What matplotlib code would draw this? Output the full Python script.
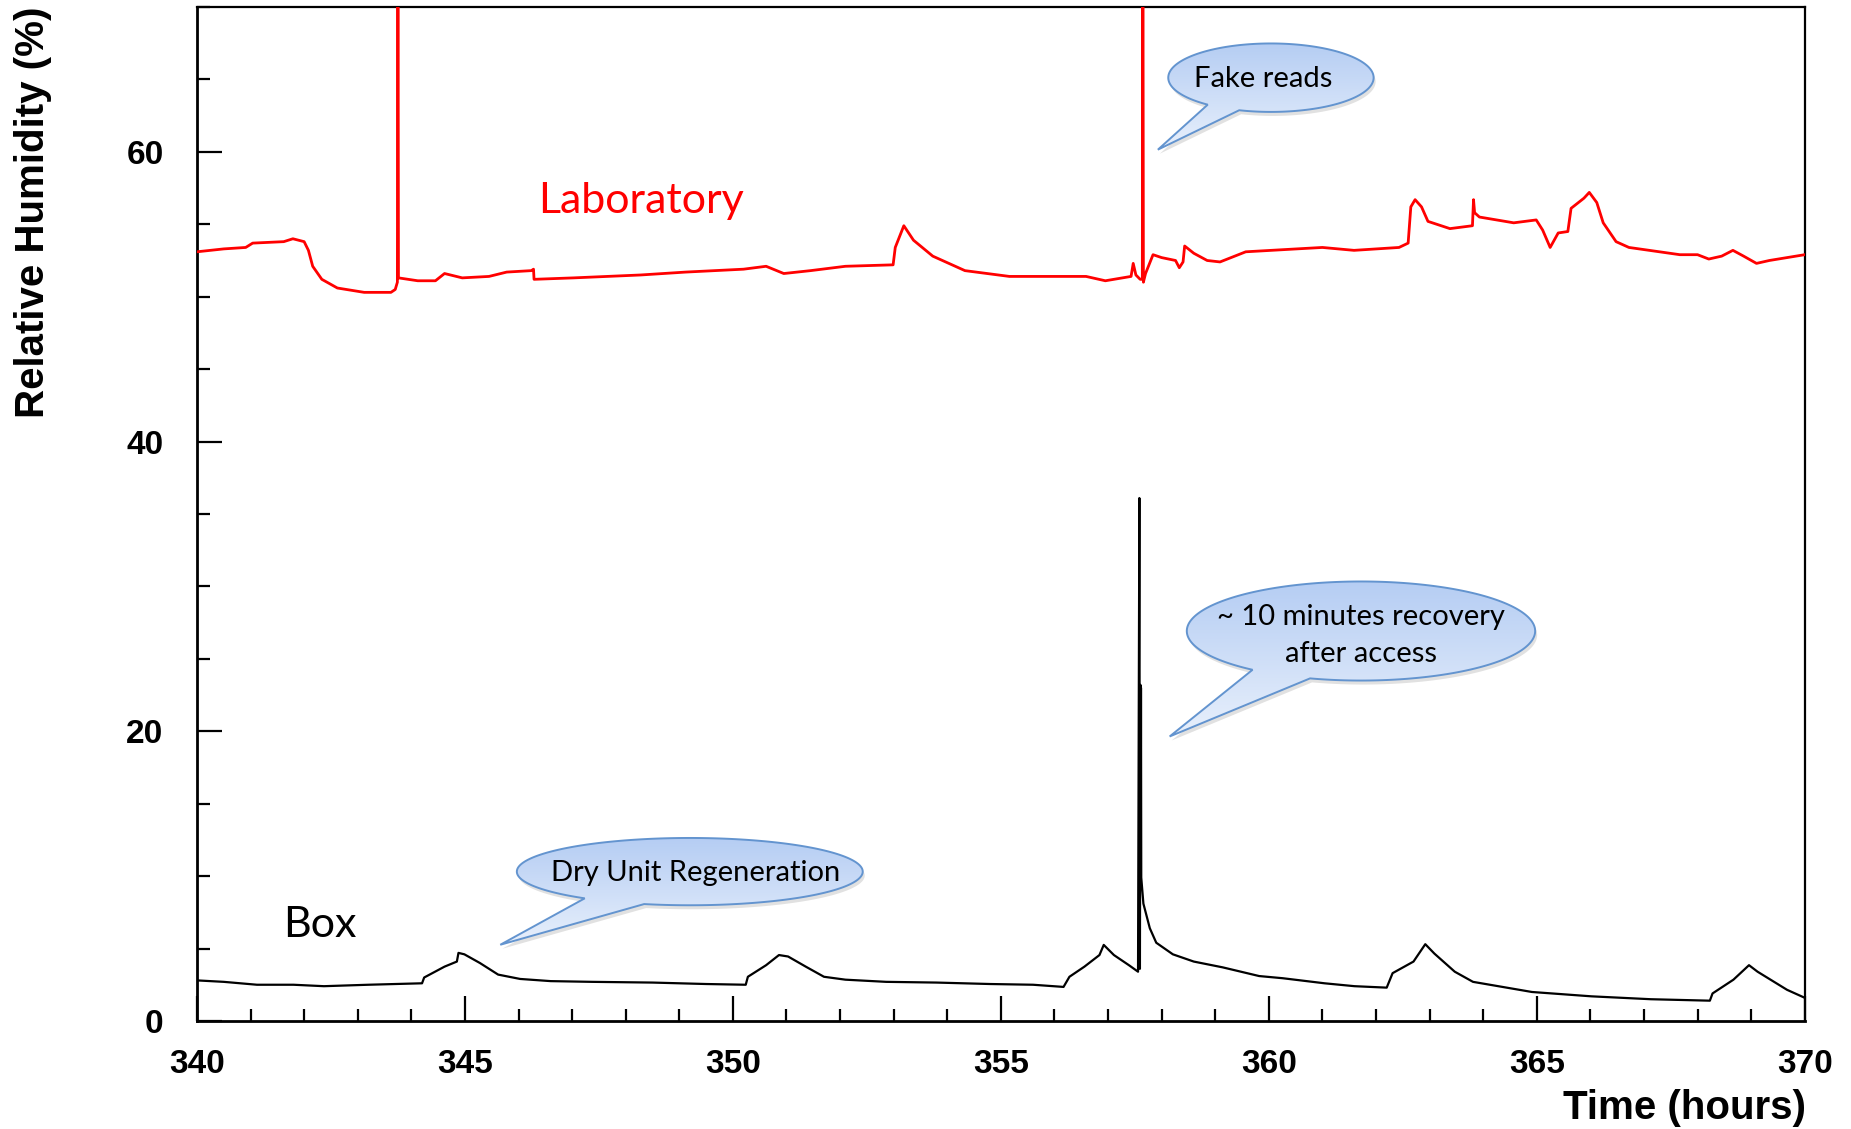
import numpy as np
import matplotlib
matplotlib.use("Agg")
import matplotlib.pyplot as plt
from matplotlib.path import Path
from matplotlib.patches import PathPatch
from matplotlib.colors import LinearSegmentedColormap
import matplotlib.transforms as mtransforms

# Laboratory humidity (red)
lab_t = [340.00, 340.50, 340.91, 341.04, 341.62, 341.79, 342.00, 342.08, 342.16, 342.33,
         342.62, 343.12, 343.62, 343.70, 343.74, 343.75, 343.76, 344.12, 344.45, 344.62,
         344.95, 345.45, 345.78, 346.24, 346.28, 346.29, 347.03, 348.28, 349.12, 350.20,
         350.62, 350.95, 351.45, 352.10, 352.99, 353.03, 353.19, 353.37, 353.73, 354.33,
         355.16, 356.59, 356.95, 357.43, 357.47, 357.52, 357.60, 357.64, 357.65, 357.66,
         357.70, 357.84, 358.00, 358.26, 358.33, 358.40, 358.43, 358.60, 358.85, 359.09,
         359.57, 360.52, 361.00, 361.59, 362.43, 362.60, 362.65, 362.73, 362.85, 362.97,
         363.38, 363.80, 363.82, 363.84, 363.93, 364.57, 364.99, 365.11, 365.25, 365.40,
         365.58, 365.64, 365.88, 365.98, 366.12, 366.24, 366.48, 366.72, 367.67, 368.00,
         368.21, 368.45, 368.66, 368.86, 369.10, 369.34, 370.00]
lab_rh = [53.1, 53.3, 53.4, 53.7, 53.8, 54.0, 53.8, 53.2, 52.1, 51.2,
          50.6, 50.3, 50.3, 50.5, 51.0, 80.0, 51.3, 51.1, 51.1, 51.6,
          51.3, 51.4, 51.7, 51.8, 51.9, 51.2, 51.3, 51.5, 51.7, 51.9,
          52.1, 51.6, 51.8, 52.1, 52.2, 53.4, 54.9, 53.9, 52.8, 51.8,
          51.4, 51.4, 51.1, 51.4, 52.3, 51.5, 51.2, 51.2, 80.0, 51.0,
          51.6, 52.9, 52.7, 52.5, 52.0, 52.4, 53.5, 53.0, 52.5, 52.4,
          53.1, 53.3, 53.4, 53.2, 53.4, 53.7, 56.2, 56.7, 56.2, 55.2,
          54.7, 54.9, 56.7, 55.8, 55.5, 55.1, 55.3, 54.6, 53.4, 54.4,
          54.5, 56.1, 56.8, 57.2, 56.5, 55.1, 53.8, 53.4, 52.9, 52.9,
          52.6, 52.8, 53.2, 52.8, 52.3, 52.5, 52.9]

# Box humidity (black)
box_t = [340.00, 340.50, 341.12, 341.80, 342.37, 343.20, 344.20, 344.24, 344.62, 344.85,
         344.88, 344.99, 345.28, 345.62, 346.03, 346.60, 347.37, 348.50, 349.50, 350.24,
         350.28, 350.62, 350.86, 351.03, 351.36, 351.70, 352.10, 352.86, 353.80, 354.80,
         355.60, 356.17, 356.28, 356.56, 356.84, 356.92, 357.11, 357.39, 357.56, 357.585,
         357.595, 357.605, 357.61, 357.615, 357.62, 357.66, 357.78, 357.90, 358.21, 358.60,
         359.14, 359.82, 360.26, 361.04, 361.60, 362.20, 362.31, 362.70, 362.92, 363.09,
         363.47, 363.81, 364.91, 366.02, 367.13, 368.23, 368.28, 368.67, 368.96, 369.12,
         369.67, 370.00]
box_rh = [2.8, 2.7, 2.5, 2.5, 2.4, 2.5, 2.6, 3.0, 3.75, 4.1,
          4.7, 4.6, 4.0, 3.2, 2.9, 2.75, 2.7, 2.65, 2.55, 2.5,
          3.05, 3.85, 4.55, 4.45, 3.75, 3.05, 2.85, 2.7, 2.65, 2.55,
          2.5, 2.35, 3.05, 3.75, 4.55, 5.25, 4.55, 3.85, 3.4, 36.1,
          3.6, 23.2, 10.5, 23.0, 9.9, 8.1, 6.4, 5.4, 4.6, 4.1,
          3.7, 3.1, 2.95, 2.6, 2.4, 2.3, 3.3, 4.1, 5.3, 4.65,
          3.4, 2.7, 2.0, 1.7, 1.5, 1.4, 1.9, 2.85, 3.85, 3.4,
          2.15, 1.6]

x_ticks = [340, 345, 350, 355, 360, 365, 370]
y_ticks = [0, 20, 40, 60]

fig = plt.figure(figsize=(18.51, 11.29), dpi=100)
ax = fig.add_axes([0.1064, 0.0957, 0.975 - 0.1064, 0.9938 - 0.0957])

ax.plot(lab_t, lab_rh, color="#ff0000", lw=2.0, zorder=3)
ax.plot(box_t, box_rh, color="black", lw=1.6, zorder=3)

ax.set_xlim(340, 370)
ax.set_ylim(0, 70)
ax.set_xticks(x_ticks)
ax.set_yticks(y_ticks)
ax.set_xticks(np.arange(340, 371, 1), minor=True)
ax.set_yticks(np.arange(0, 71, 5), minor=True)
ax.tick_params(which="major", direction="in", length=18, width=1.6,
               top=False, right=False)
ax.tick_params(which="minor", direction="in", length=9, width=1.6,
               top=False, right=False)
ax.tick_params(axis="y", which="major", pad=24)
ax.tick_params(axis="x", which="major", pad=20)
for lab in ax.get_xticklabels() + ax.get_yticklabels():
    lab.set_fontfamily("Liberation Sans")
    lab.set_fontweight("bold")
    lab.set_fontsize(24)
for s in ["left", "bottom"]:
    ax.spines[s].set_linewidth(2.0)
for s in ["top", "right"]:
    ax.spines[s].set_linewidth(1.6)

fig.text(14 / 1851, 1 - 7 / 1129, "Relative Humidity (%)", rotation=90,
         ha="left", va="top", fontsize=29, fontweight="bold",
         family="Liberation Sans")
fig.text(1806 / 1851, 1 - 1119 / 1129, "Time (hours)", ha="right",
         va="baseline", fontsize=29, fontweight="bold", family="Liberation Sans")

ax.text(346.37, 55.8, "Laboratory", color="#ff0000", fontsize=31,
        family="Lato", va="baseline")
ax.text(341.6, 5.8, "Box", color="black", fontsize=31, family="Lato",
        va="baseline")

bubble_cmap = LinearSegmentedColormap.from_list("bub", ["#e8f0fc", "#b5cdf3"])


def bubble(cx, cy, rx, ry, tip, a_left, a_right, lines, tx, ty, fs=21):
    th = np.radians(np.linspace(a_right, a_left + 360, 240))
    xs = list(cx + rx * np.cos(th)) + [tip[0]]
    ys = list(cy + ry * np.sin(th)) + [tip[1]]
    verts = list(zip(xs, ys)) + [(xs[0], ys[0])]
    codes = [Path.MOVETO] + [Path.LINETO] * (len(verts) - 2) + [Path.CLOSEPOLY]
    path = Path(verts, codes)
    shadow = PathPatch(path, facecolor="#888888", edgecolor="none", alpha=0.25,
                       zorder=4,
                       transform=ax.transData + mtransforms.ScaledTranslation(
                           2 / 100, -4 / 100, fig.dpi_scale_trans))
    ax.add_patch(shadow)
    patch = PathPatch(path, facecolor="none", edgecolor="#6394cf", lw=1.4, zorder=6)
    ax.add_patch(patch)
    grad = np.linspace(0, 1, 256).reshape(-1, 1)
    x0, x1 = min(cx - rx, tip[0]), max(cx + rx, tip[0])
    y0, y1 = min(cy - ry, tip[1]), cy + ry
    im = ax.imshow(grad, extent=[x0, x1, y1, y0], aspect="auto", cmap=bubble_cmap,
                   origin="upper", zorder=5)
    im.set_clip_path(patch)
    n = len(lines)
    for i, t in enumerate(lines):
        dy = (i - (n - 1) / 2) * ry * 0.74
        ax.text(tx, ty - dy, t, ha="center", va="center", fontsize=fs,
                family="Lato", zorder=7)


bubble(360.04, 65.12, 1.916, 2.363, (357.93, 60.15), 232, 252,
       ["Fake reads"], 359.90, 65.0)
bubble(361.72, 26.92, 3.25, 3.42, (358.15, 19.64), 231.5, 253,
       ["~ 10 minutes recovery", "after access"], 361.72, 26.6)
bubble(349.196, 10.31, 3.227, 2.323, (345.66, 5.26), 232.6, 254.7,
       ["Dry Unit Regeneration"], 349.30, 10.2)

ax.set_xlim(340, 370)
ax.set_ylim(0, 70)

fig.savefig("out.png", dpi=100)
